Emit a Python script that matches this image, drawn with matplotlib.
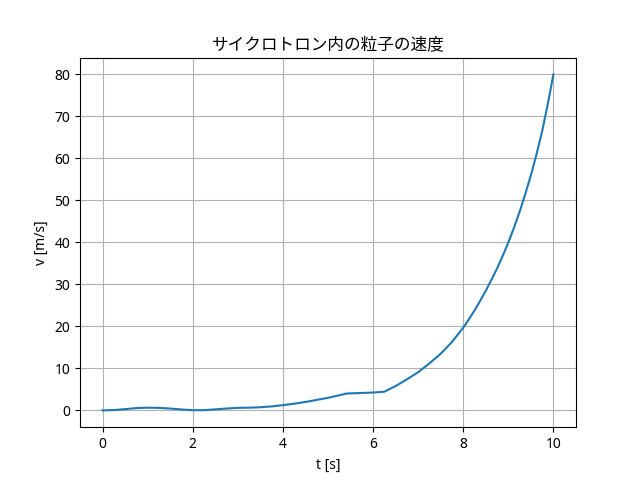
import numpy as np
from matplotlib import pyplot as plt

plt.rcParams['font.family'] = ['Noto Sans', 'Noto Sans CJK JP', 'DejaVu Sans']

# 時間 [s] と速度 [m/s]
t = [0, 0.25, 0.5, 0.75, 1.0, 1.25, 1.5, 1.75, 2.0, 2.25, 2.5, 2.75, 3.0, 3.25,
     3.5, 3.75, 4.0, 4.25, 4.5, 4.75, 5.0, 5.25, 5.4, 5.5, 5.75, 6.0, 6.25,
     6.5, 6.75, 7.0, 7.25, 7.5, 7.75, 8.0, 8.125, 8.25, 8.375, 8.5, 8.625,
     8.75, 8.875, 9.0, 9.125, 9.25, 9.375, 9.5, 9.625, 9.75, 9.875, 10.0]
v = [0, 0.08, 0.3, 0.55, 0.65, 0.6, 0.45, 0.22, 0.05, 0.05, 0.25, 0.45, 0.6, 0.65,
     0.75, 0.95, 1.25, 1.6, 2.0, 2.5, 3.0, 3.6, 4.0, 4.05, 4.15, 4.25, 4.45,
     5.8, 7.4, 9.1, 11.2, 13.5, 16.3, 19.7, 21.7, 23.8, 26.1, 28.5, 31.1,
     33.8, 36.8, 40.0, 43.5, 47.3, 51.5, 56.0, 61.0, 66.5, 73.0, 80.0]

fig = plt.figure(figsize=(6.4, 4.8), dpi=100)
plt.plot(t, v)
plt.title('サイクロトロン内の粒子の速度')
plt.xlabel('t [s]')
plt.ylabel('v [m/s]')
plt.grid(True)
plt.savefig('out.png', dpi=100)
